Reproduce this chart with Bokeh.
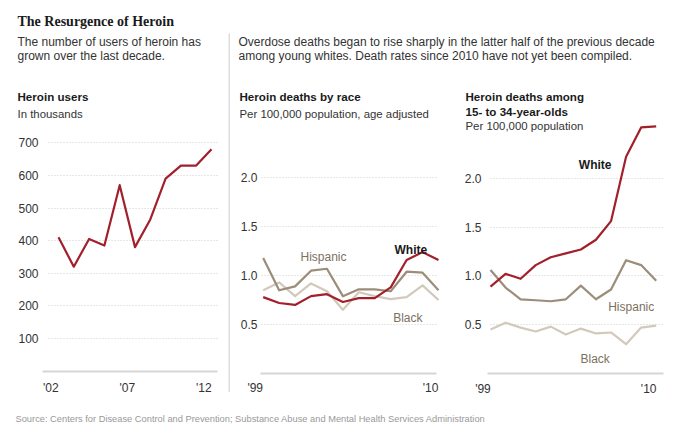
from bokeh.plotting import figure
from bokeh.models import Range1d, FixedTicker, Label, Spacer, NumeralTickFormatter, Grid
from bokeh.layouts import row, column
from bokeh.embed import file_html
from bokeh.resources import INLINE

# ---------------- data ----------------
users_years = [2002, 2003, 2004, 2005, 2006, 2007, 2008, 2009, 2010, 2011, 2012]
users_thousands = [410, 320, 405, 385, 570, 380, 465, 590, 630, 630, 680]
users_ticks = [100, 200, 300, 400, 500, 600, 700]
users_xticks = [2002, 2007, 2012]
users_xlabels = ["'02", "'07", "'12"]

death_years = [1999, 2000, 2001, 2002, 2003, 2004, 2005, 2006, 2007, 2008, 2009, 2010]
race_white = [0.78, 0.72, 0.70, 0.79, 0.81, 0.73, 0.77, 0.77, 0.88, 1.16, 1.24, 1.16]
race_hispanic = [1.18, 0.85, 0.89, 1.05, 1.07, 0.79, 0.86, 0.86, 0.84, 1.04, 1.03, 0.85]
race_black = [0.85, 0.93, 0.79, 0.92, 0.84, 0.65, 0.83, 0.79, 0.76, 0.78, 0.90, 0.75]

young_white = [0.89, 1.02, 0.97, 1.11, 1.19, 1.23, 1.27, 1.37, 1.56, 2.22, 2.52, 2.53]
young_hispanic = [1.06, 0.88, 0.76, 0.75, 0.74, 0.76, 0.90, 0.76, 0.86, 1.16, 1.11, 0.95]
young_black = [0.45, 0.52, 0.47, 0.43, 0.48, 0.40, 0.46, 0.41, 0.42, 0.30, 0.47, 0.49]

rate_ticks = [0.5, 1.0, 1.5, 2.0]
death_xticks = [1999, 2010]
death_xlabels = ["'99", "'10"]

# annual values are plotted at mid-year; tick labels mark the start of the year
users_x = [y + 0.5 for y in users_years]
death_x = [y + 0.5 for y in death_years]

# ---------------- style ----------------
FONT = "Liberation Sans"
SERIF = "Liberation Serif"
RED = "#a1202b"
HISP = "#9b8d79"
BLK = "#d2c9bb"
LABEL_BROWN = "#7d705e"
TEXT = "#333333"
DARK = "#1a1a1a"
GRID = "#cfcfcf"
AXIS = "#d6d6d6"
BODY = "12px"
HEAD = "11.6px"
SUB = "11.4px"


class Panel:
    """A figure whose frame fills its whole canvas; page pixel <-> data helpers."""

    def __init__(self, x0, y0, w, h, xmap=None, ymap=None):
        self.x0, self.y0, self.w, self.h = x0, y0, w, h
        self.xmap = xmap or (0.0, x0, 1.0, x0 + w)
        self.ymap = ymap or (0.0, y0 + h, 1.0, y0)
        axes = xmap is not None
        xr = Range1d(self.px_to_x(x0), self.px_to_x(x0 + w))
        yr = Range1d(self.py_to_y(y0 + h), self.py_to_y(y0))
        kw = dict(width=w, height=h, output_backend="svg", toolbar_location=None,
                  x_range=xr, y_range=yr, min_border=0,
                  outline_line_color=None, background_fill_color="white",
                  border_fill_color="white")
        if not axes:
            kw.update(x_axis_location=None, y_axis_location=None)
        self.p = figure(**kw)
        if not axes:
            self.p.grid.visible = False

    def px_to_x(self, px):
        v0, p0, v1, p1 = self.xmap
        return v0 + (px - p0) * (v1 - v0) / (p1 - p0)

    def py_to_y(self, py):
        v0, p0, v1, p1 = self.ymap
        return v0 + (py - p0) * (v1 - v0) / (p1 - p0)

    def text(self, px, py, text, bold=False, size="12px", color=TEXT, font=FONT, align="left"):
        self.p.add_layout(Label(x=px - self.x0, y=(self.y0 + self.h) - py,
                                x_units="screen", y_units="screen",
                                text=text, text_font=font, text_font_size=size,
                                text_font_style="bold" if bold else "normal",
                                text_color=color, text_align=align,
                                text_baseline="alphabetic"))

    def axes(self, yticks, yaxis_px, ystandoff, grid_px, xticks, xlabels, xaxis_px, xstandoff, yfmt=None):
        p = self.p
        p.xgrid.visible = False
        g = p.ygrid[0]
        g.ticker = FixedTicker(ticks=yticks)
        g.grid_line_color = GRID
        g.grid_line_dash = "1 2"
        g.grid_line_width = 1
        if "cross_bounds" in Grid.properties():
            g.cross_bounds = (self.px_to_x(grid_px[0]), self.px_to_x(grid_px[1]))
        else:
            g.visible = False
            x0 = [self.px_to_x(grid_px[0])] * len(yticks)
            x1 = [self.px_to_x(grid_px[1])] * len(yticks)
            p.segment(x0=x0, x1=x1, y0=yticks, y1=yticks, line_color=GRID,
                      line_dash="1 2", line_width=1)

        ya = p.yaxis[0]
        ya.fixed_location = self.px_to_x(yaxis_px)
        ya.ticker = FixedTicker(ticks=yticks)
        ya.axis_line_color = None
        ya.major_tick_line_color = None
        ya.minor_tick_line_color = None
        ya.major_tick_out = 0
        ya.major_tick_in = 0
        ya.major_label_standoff = ystandoff
        ya.major_label_text_font = FONT
        ya.major_label_text_font_size = "12px"
        ya.major_label_text_color = TEXT
        if yfmt:
            ya.formatter = NumeralTickFormatter(format=yfmt)

        xa = p.xaxis[0]
        xa.fixed_location = 0
        xa.bounds = (self.px_to_x(xaxis_px[0]), self.px_to_x(xaxis_px[1]))
        xa.ticker = FixedTicker(ticks=xticks)
        xa.major_label_overrides = {t: l for t, l in zip(xticks, xlabels)}
        xa.axis_line_color = AXIS
        xa.axis_line_width = 2
        xa.major_tick_line_color = None
        xa.minor_tick_line_color = None
        xa.major_tick_out = 0
        xa.major_tick_in = 0
        xa.major_label_standoff = xstandoff
        xa.major_label_text_font = FONT
        xa.major_label_text_font_size = "12px"
        xa.major_label_text_color = TEXT


# ---------------- left panel: heroin users ----------------
L = Panel(0, 0, 228, 400,
          xmap=(users_x[0], 58, users_x[-1], 211),
          ymap=(0, 370.5, users_ticks[-1], 142.3))
L.axes(users_ticks, 48, 10, (48, 217), users_xticks, users_xlabels, (42, 217), 10)
L.p.line(users_x, users_thousands, line_color=RED, line_width=2.2, line_join="round")
L.text(17, 21, "The Resurgence of Heroin", bold=True, size="14px", color=DARK, font=SERIF)
L.text(17, 41, "The number of users of heroin has", size=BODY)
L.text(17, 55.5, "grown over the last decade.", size=BODY)
L.text(17, 95.5, "Heroin users", bold=True, size=HEAD, color=DARK)
L.text(17, 113.5, "In thousands", size=SUB)

# ---------------- separator ----------------
S = Panel(228, 33, 2, 359)
S.p.background_fill_color = "#dddddd"
S.p.border_fill_color = "#dddddd"

# ---------------- description ----------------
D = Panel(230, 0, 440, 66)
D.text(238, 41, "Overdose deaths began to rise sharply in the latter half of the previous decade", size=BODY)
D.text(238, 55.5, "among young whites. Death rates since 2010 have not yet been compiled.", size=BODY)

# ---------------- middle panel: deaths by race ----------------
M = Panel(230, 66, 230, 334,
          xmap=(death_x[0], 262.7, death_x[-1], 438.0),
          ymap=(0, 372.9, rate_ticks[-1], 177.3))
M.axes(rate_ticks, 261, 4, (261, 437), death_xticks, death_xlabels, (260, 436), 8, yfmt="0.0")
M.p.line(death_x, race_black, line_color=BLK, line_width=2.2, line_join="round")
M.p.line(death_x, race_hispanic, line_color=HISP, line_width=2.2, line_join="round")
M.p.line(death_x, race_white, line_color=RED, line_width=2.2, line_join="round")
M.text(239, 95.5, "Heroin deaths by race", bold=True, size=HEAD, color=DARK)
M.text(239, 113.5, "Per 100,000 population, age adjusted", size=SUB)
M.text(300, 256.5, "Hispanic", color=LABEL_BROWN)
M.text(394, 249.3, "White", bold=True, color=DARK)
M.text(392.7, 317.3, "Black", color=LABEL_BROWN)

# ---------------- right panel: 15- to 34-year-olds ----------------
R = Panel(460, 66, 210, 334,
          xmap=(death_x[0], 490.0, death_x[-1], 655.7),
          ymap=(0, 373.0, rate_ticks[-1], 177.7))
R.axes(rate_ticks, 490, 9, (490, 662), death_xticks, death_xlabels, (487, 663), 8, yfmt="0.0")
R.p.line(death_x, young_black, line_color=BLK, line_width=2.2, line_join="round")
R.p.line(death_x, young_hispanic, line_color=HISP, line_width=2.2, line_join="round")
R.p.line(death_x, young_white, line_color=RED, line_width=2.2, line_join="round")
R.text(465, 95.5, "Heroin deaths among", bold=True, size=HEAD, color=DARK)
R.text(465, 110.5, "15- to 34-year-olds", bold=True, size=HEAD, color=DARK)
R.text(465, 125.5, "Per 100,000 population", size=SUB)
R.text(578.3, 164.7, "White", bold=True, color=DARK)
R.text(607.7, 306.7, "Hispanic", color=LABEL_BROWN)
R.text(580, 358.7, "Black", color=LABEL_BROWN)

# ---------------- footer ----------------
F = Panel(0, 400, 670, 34)
F.text(15, 418,
       "Source: Centers for Disease Control and Prevention; Substance Abuse and Mental Health Services Administration",
       size="9.3px", color="#999999")

layout = column(
    row(L.p, column(Spacer(width=2, height=33), S.p), column(D.p, row(M.p, R.p))),
    F.p,
)

open("out.html", "w").write(file_html(layout, INLINE))
